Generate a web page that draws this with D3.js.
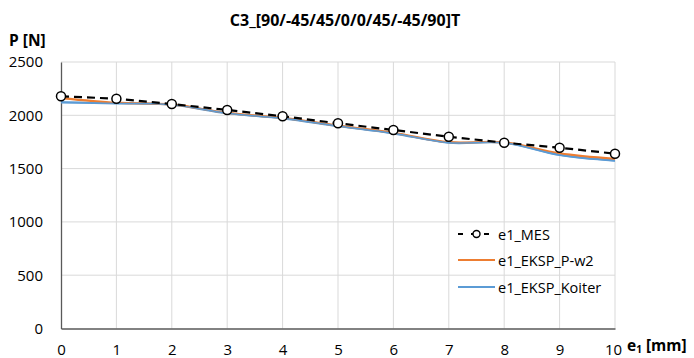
<!DOCTYPE html>
<html>
<head>
<meta charset="utf-8">
<script src="https://cdn.jsdelivr.net/npm/d3@7"></script>
<style>
  body { margin: 0; background: #fff; }
  svg { font-family: "Open Sans", "Liberation Sans", sans-serif; }
</style>
</head>
<body>
<main></main>
<script>
const xValues = [0, 1, 2, 3, 4, 5, 6, 7, 8, 9, 10]
const mes = [2178, 2156, 2106, 2050, 1991, 1925, 1862, 1799, 1743, 1696, 1640]
const pw2 = [2162, 2118, 2102, 2022, 1975, 1903, 1835, 1748, 1745, 1643, 1592]
const koiter = [2122, 2112, 2100, 2019, 1972, 1900, 1831, 1743, 1743, 1628, 1574]
const yTicks = [0, 500, 1000, 1500, 2000, 2500]
const seriesNames = ["e1_MES", "e1_EKSP_P-w2", "e1_EKSP_Koiter"]

const doPlot = () => {
  const w = 694
  const h = 358
  const left = 61
  const right = 615
  const top = 62
  const bottom = 328.5

  const svg = d3.select("main").append("svg").attr("width", w).attr("height", h)

  const xScale = d3.scaleLinear().domain([0, 10]).range([left, right])
  const yScale = d3.scaleLinear().domain([0, 2500]).range([bottom, top])

  // grid
  svg.append("g")
    .selectAll("line")
    .data(yTicks.slice(1))
    .enter()
    .append("line")
    .attr("x1", left).attr("x2", right)
    .attr("y1", (d) => yScale(d)).attr("y2", (d) => yScale(d))
    .attr("stroke", "#d9d9d9").attr("stroke-width", 1)

  svg.append("g")
    .selectAll("line")
    .data(xValues.slice(1))
    .enter()
    .append("line")
    .attr("x1", (d) => xScale(d)).attr("x2", (d) => xScale(d))
    .attr("y1", top).attr("y2", bottom)
    .attr("stroke", "#d9d9d9").attr("stroke-width", 1)

  // axes
  const xAxis = d3.axisBottom(xScale).tickValues(xValues).tickSize(0).tickPadding(15.5)
  const yAxis = d3.axisLeft(yScale).tickValues(yTicks).tickSize(0).tickPadding(18)
    .tickFormat(d3.format("d"))

  const gx = svg.append("g").attr("transform", `translate(0, ${bottom})`).call(xAxis)
  const gy = svg.append("g").attr("transform", `translate(${left}, 0)`).call(yAxis)
  gx.select(".domain").attr("stroke", "#595959").attr("stroke-width", 1.3)
  gy.select(".domain").attr("stroke", "#595959").attr("stroke-width", 1.3)
  gx.selectAll("text").attr("font-size", 15).attr("fill", "#000").attr("font-family", "Open Sans")
  gy.selectAll("text").attr("font-size", 15).attr("fill", "#000").attr("font-family", "Open Sans")
  gx.selectAll(".tick").filter((d) => d === 10).select("text").attr("dx", -2)

  // lines
  const line = (vals) =>
    d3.line()
      .x((d, i) => xScale(xValues[i]))
      .y((d) => yScale(d))
      .curve(d3.curveCatmullRom.alpha(0.5))(vals)

  svg.append("path").attr("d", line(koiter))
    .attr("fill", "none").attr("stroke", "#5B9BD5").attr("stroke-width", 2.2)
  svg.append("path").attr("d", line(pw2))
    .attr("fill", "none").attr("stroke", "#ED7D31").attr("stroke-width", 2.2)

  // keep blue on top where they overlap
  svg.append("path").attr("d", line(koiter))
    .attr("fill", "none").attr("stroke", "#5B9BD5").attr("stroke-width", 1.4)

  svg.append("path")
    .attr("d", d3.line().x((d, i) => xScale(xValues[i])).y((d) => yScale(d))(mes))
    .attr("fill", "none").attr("stroke", "#000").attr("stroke-width", 2.2)
    .attr("stroke-dasharray", "8,5")

  svg.append("g")
    .selectAll("circle")
    .data(mes)
    .enter()
    .append("circle")
    .attr("cx", (d, i) => xScale(xValues[i]))
    .attr("cy", (d) => yScale(d))
    .attr("r", 4.5)
    .attr("fill", "#fff").attr("stroke", "#000").attr("stroke-width", 1.5)

  // legend
  const legend = svg.append("g").attr("transform", "translate(458, 0)")
  const rowsY = [234, 260, 287]
  legend.append("line").attr("x1", 0).attr("x2", 37).attr("y1", rowsY[0]).attr("y2", rowsY[0])
    .attr("stroke", "#000").attr("stroke-width", 2.2).attr("stroke-dasharray", "5,8")
  legend.append("circle").attr("cx", 18.5).attr("cy", rowsY[0]).attr("r", 3.5)
    .attr("fill", "#fff").attr("stroke", "#000").attr("stroke-width", 1.4)
  legend.append("line").attr("x1", 0).attr("x2", 37).attr("y1", rowsY[1]).attr("y2", rowsY[1])
    .attr("stroke", "#ED7D31").attr("stroke-width", 2.2)
  legend.append("line").attr("x1", 0).attr("x2", 37).attr("y1", rowsY[2]).attr("y2", rowsY[2])
    .attr("stroke", "#5B9BD5").attr("stroke-width", 2.2)
  legend.selectAll("text.lbl")
    .data(seriesNames)
    .enter()
    .append("text")
    .attr("class", "lbl")
    .attr("x", 40)
    .attr("y", (d, i) => rowsY[i] + 5.5)
    .attr("font-size", 14.5)
    .text((d) => d)

  // titles
  svg.append("text")
    .attr("x", 345).attr("y", 26)
    .attr("text-anchor", "middle")
    .attr("font-size", 16).attr("font-weight", "bold")
    .text("C3_[90/-45/45/0/0/45/-45/90]T")

  svg.append("text")
    .attr("x", 9).attr("y", 46)
    .attr("font-size", 15.5).attr("font-weight", "bold")
    .text("P [N]")

  const xt = svg.append("text")
    .attr("x", 627).attr("y", 351)
    .attr("font-size", 15.5).attr("font-weight", "bold")
  xt.append("tspan").text("e")
  xt.append("tspan").attr("font-size", 10).attr("dy", 2).text("1")
  xt.append("tspan").attr("dy", -2).text(" [mm]")
}

doPlot()
</script>
</body>
</html>
